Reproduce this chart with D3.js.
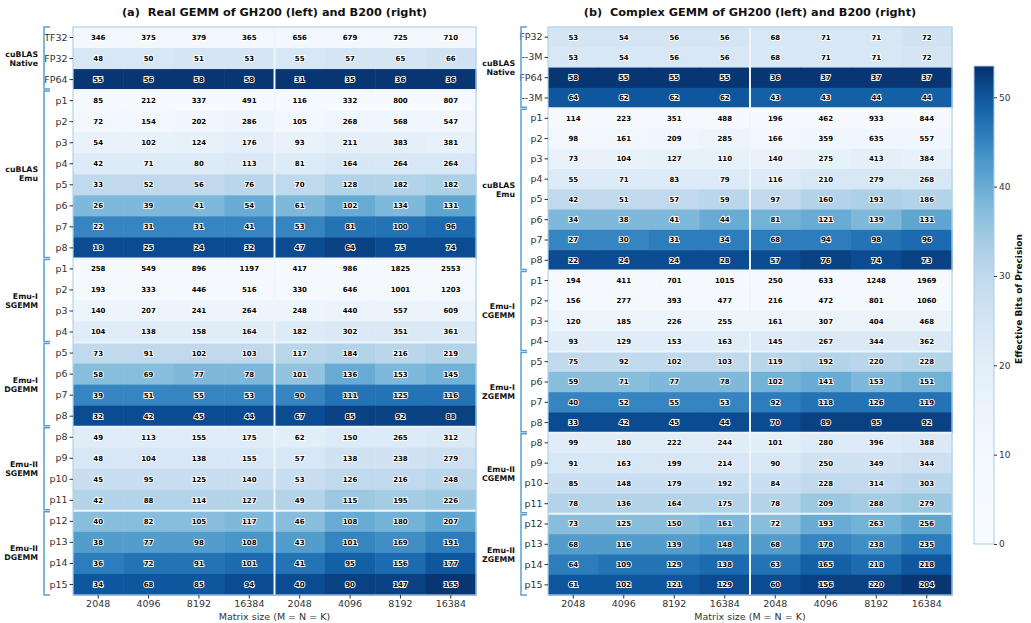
<!DOCTYPE html>
<html>
<head>
<meta charset="utf-8">
<script src="https://cdn.jsdelivr.net/npm/d3@7"></script>
<style>
  body { margin: 0; background: #fff; }
  text { font-family: "DejaVu Sans", sans-serif; }
</style>
</head>
<body>
<div id="chart"></div>
<script>
(function(d3) {

  var sizes = ["2048", "4096", "8192", "16384"];

  // ---- (a) real GEMM ----
  var realRows = ["TF32", "FP32", "FP64",
    "p1", "p2", "p3", "p4", "p5", "p6", "p7", "p8",
    "p1", "p2", "p3", "p4",
    "p5", "p6", "p7", "p8",
    "p8", "p9", "p10", "p11",
    "p12", "p13", "p14", "p15"];
  var realGroups = ["cuBLAS|Native", "cuBLAS|Emu", "Emu-I|SGEMM", "Emu-I|DGEMM", "Emu-II|SGEMM", "Emu-II|DGEMM"];
  var realGroupSizes = [3, 8, 4, 4, 4, 4];

  // throughput shown in each cell (GH200 x4 | B200 x4)
  var realValues = [
    [346, 375, 379, 365, 656, 679, 725, 710],
    [48, 50, 51, 53, 55, 57, 65, 66],
    [55, 56, 58, 58, 31, 35, 36, 36],
    [85, 212, 337, 491, 116, 332, 800, 807],
    [72, 154, 202, 286, 105, 268, 568, 547],
    [54, 102, 124, 176, 93, 211, 383, 381],
    [42, 71, 80, 113, 81, 164, 264, 264],
    [33, 52, 56, 76, 70, 128, 182, 182],
    [26, 39, 41, 54, 61, 102, 134, 131],
    [22, 31, 31, 41, 53, 81, 100, 96],
    [18, 25, 24, 32, 47, 64, 75, 74],
    [258, 549, 896, 1197, 417, 986, 1825, 2553],
    [193, 333, 446, 516, 330, 646, 1001, 1203],
    [140, 207, 241, 264, 248, 440, 557, 609],
    [104, 138, 158, 164, 182, 302, 351, 361],
    [73, 91, 102, 103, 117, 184, 216, 219],
    [58, 69, 77, 78, 101, 136, 153, 145],
    [39, 51, 55, 53, 90, 111, 125, 116],
    [32, 42, 45, 44, 67, 85, 92, 88],
    [49, 113, 155, 175, 62, 150, 265, 312],
    [48, 104, 138, 155, 57, 138, 238, 279],
    [45, 95, 125, 140, 53, 126, 216, 248],
    [42, 88, 114, 127, 49, 115, 195, 226],
    [40, 82, 105, 117, 46, 108, 180, 207],
    [38, 77, 98, 108, 43, 101, 169, 191],
    [36, 72, 91, 101, 41, 95, 156, 177],
    [34, 68, 85, 94, 40, 90, 147, 165]
  ];
  // effective bits (cell colour), estimated from the shading
  var realBits = [
    [11, 11, 11, 11, 11, 11, 11, 11],
    [24, 24, 25, 25, 24, 25, 25, 26],
    [53, 53, 53, 53, 53, 53, 53, 53],
    [6, 6, 6, 6, 6, 6, 6, 6],
    [12, 12, 13, 15, 12, 13, 13, 13],
    [17, 17, 18, 19, 17, 19, 19, 18],
    [22, 22, 22, 23, 22, 24, 24, 24],
    [30, 30, 30, 31, 30, 32, 32, 33],
    [38, 38, 38, 40, 38, 40, 38, 41],
    [45, 45, 45, 45, 45, 47, 47, 48],
    [51, 51, 51, 51, 51, 52, 51, 51],
    [5, 5, 5, 5, 5, 5, 5, 5],
    [9, 9, 9, 9, 9, 9, 9, 9],
    [15, 15, 15, 15, 15, 16, 16, 16],
    [21, 21, 21, 21, 22, 23, 23, 23],
    [30, 30, 30, 30, 31, 32, 31, 32],
    [37, 37, 38, 38, 36, 40, 38, 39],
    [45, 45, 45, 45, 45, 47, 47, 47],
    [51, 51, 51, 51, 51, 52, 52, 52],
    [21, 21, 21, 21, 20, 22, 22, 23],
    [24, 24, 24, 24, 24, 26, 26, 27],
    [28, 28, 28, 28, 28, 30, 30, 31],
    [32, 32, 32, 32, 32, 35, 34, 35],
    [37, 37, 37, 38, 37, 40, 39, 41],
    [42, 42, 42, 43, 42, 45, 44, 46],
    [46, 47, 47, 48, 47, 49, 48, 50],
    [50, 50, 50, 51, 51, 52, 52, 53]
  ];

  // ---- (b) complex GEMM ----
  var complexRows = ["FP32", "--3M", "FP64", "--3M",
    "p1", "p2", "p3", "p4", "p5", "p6", "p7", "p8",
    "p1", "p2", "p3", "p4",
    "p5", "p6", "p7", "p8",
    "p8", "p9", "p10", "p11",
    "p12", "p13", "p14", "p15"];
  var complexGroups = ["cuBLAS|Native", "cuBLAS|Emu", "Emu-I|CGEMM", "Emu-I|ZGEMM", "Emu-II|CGEMM", "Emu-II|ZGEMM"];
  var complexGroupSizes = [4, 8, 4, 4, 4, 4];

  var complexValues = [
    [53, 54, 56, 56, 68, 71, 71, 72],
    [53, 54, 56, 56, 68, 71, 71, 72],
    [58, 55, 55, 55, 36, 37, 37, 37],
    [64, 62, 62, 62, 43, 43, 44, 44],
    [114, 223, 351, 488, 196, 462, 933, 844],
    [98, 161, 209, 285, 166, 359, 635, 557],
    [73, 104, 127, 110, 140, 275, 413, 384],
    [55, 71, 83, 79, 116, 210, 279, 268],
    [42, 51, 57, 59, 97, 160, 193, 186],
    [34, 38, 41, 44, 81, 121, 139, 131],
    [27, 30, 31, 34, 68, 94, 98, 96],
    [22, 24, 24, 28, 57, 76, 74, 73],
    [194, 411, 701, 1015, 250, 633, 1248, 1969],
    [156, 277, 393, 477, 216, 472, 801, 1060],
    [120, 185, 226, 255, 161, 307, 404, 468],
    [93, 129, 153, 163, 145, 267, 344, 362],
    [75, 92, 102, 103, 119, 192, 220, 228],
    [59, 71, 77, 78, 102, 141, 153, 151],
    [40, 52, 55, 53, 92, 118, 126, 119],
    [33, 42, 45, 44, 70, 89, 95, 92],
    [99, 180, 222, 244, 101, 280, 396, 388],
    [91, 163, 199, 214, 90, 250, 349, 344],
    [85, 148, 179, 192, 84, 228, 314, 303],
    [78, 136, 164, 175, 78, 209, 288, 279],
    [73, 125, 150, 161, 72, 193, 263, 256],
    [68, 116, 139, 148, 68, 178, 238, 235],
    [64, 109, 129, 138, 63, 165, 218, 218],
    [61, 102, 121, 129, 60, 156, 220, 204]
  ];
  var complexBits = [
    [25, 25, 25, 25, 24, 24, 24, 26],
    [24, 24, 24, 24, 24, 24, 24, 25],
    [53, 53, 53, 53, 53, 53, 53, 53],
    [50, 50, 50, 50, 49, 49, 49, 49],
    [6, 6, 6, 6, 6, 6, 6, 6],
    [12, 12, 13, 15, 12, 13, 13, 13],
    [17, 17, 18, 18, 17, 18, 19, 18],
    [22, 22, 22, 22, 22, 24, 24, 24],
    [30, 30, 30, 31, 30, 32, 33, 32],
    [38, 38, 38, 40, 39, 40, 38, 41],
    [45, 45, 46, 46, 46, 46, 47, 48],
    [51, 51, 51, 51, 51, 52, 51, 52],
    [5, 5, 5, 5, 5, 5, 5, 5],
    [9, 9, 9, 9, 9, 9, 9, 9],
    [15, 15, 15, 15, 15, 16, 16, 16],
    [21, 21, 21, 21, 22, 23, 23, 23],
    [30, 30, 30, 30, 31, 32, 31, 32],
    [37, 37, 38, 38, 39, 40, 38, 39],
    [45, 45, 45, 45, 46, 47, 47, 47],
    [51, 51, 51, 51, 51, 52, 52, 52],
    [21, 21, 21, 21, 20, 22, 22, 23],
    [24, 24, 24, 24, 24, 26, 26, 27],
    [28, 28, 28, 28, 28, 30, 30, 31],
    [32, 32, 32, 32, 32, 35, 34, 35],
    [37, 37, 37, 38, 37, 40, 39, 41],
    [42, 42, 42, 43, 42, 45, 44, 46],
    [46, 47, 47, 48, 47, 49, 48, 50],
    [50, 50, 50, 51, 51, 52, 52, 53]
  ];

  var cbTicks = [0, 10, 20, 30, 40, 50];

  var W = 1031, H = 623;
  var vmax = 53.5;

  var color = d3.scaleSequentialPow(d3.interpolateBlues).exponent(2.3).domain([0, vmax]);

  var svg = d3.select("#chart").append("svg")
    .attr("width", W).attr("height", H);

  function drawPanel(p) {
    var nrows = p.rows.length;
    var x = d3.scaleBand().domain(d3.range(8)).range([p.x0, p.x1]);
    var y = d3.scaleBand().domain(d3.range(nrows)).range([p.y0, p.y1]);
    var g = svg.append("g");

    var cells = [];
    p.values.forEach(function(row, i) {
      row.forEach(function(v, j) { cells.push({i: i, j: j, v: v, b: p.bits[i][j]}); });
    });

    g.selectAll("rect.cell").data(cells).enter().append("rect")
      .attr("class", "cell")
      .attr("x", function(d) { return x(d.j); })
      .attr("y", function(d) { return y(d.i); })
      .attr("width", x.bandwidth() + 0.5)
      .attr("height", y.bandwidth() + 0.5)
      .attr("fill", function(d) { return color(d.b); });

    // group separators
    var bounds = [], acc = 0;
    p.groupSizes.forEach(function(n) { bounds.push([acc, acc + n]); acc += n; });
    bounds.slice(1).forEach(function(b) {
      g.append("line")
        .attr("x1", p.x0).attr("x2", p.x1)
        .attr("y1", y(b[0])).attr("y2", y(b[0]))
        .attr("stroke", "#eef5fc").attr("stroke-width", 2);
    });
    g.append("line")
      .attr("x1", x(4)).attr("x2", x(4))
      .attr("y1", p.y0).attr("y2", p.y1)
      .attr("stroke", "#eef5fc").attr("stroke-width", 2);

    g.append("rect")
      .attr("x", p.x0).attr("y", p.y0)
      .attr("width", p.x1 - p.x0).attr("height", p.y1 - p.y0)
      .attr("fill", "none").attr("stroke", "#b3d3ea").attr("stroke-width", 1.2);

    // cell labels
    g.selectAll("text.val").data(cells).enter().append("text")
      .attr("class", "val")
      .attr("x", function(d) { return x(d.j) + x.bandwidth() / 2; })
      .attr("y", function(d) { return y(d.i) + y.bandwidth() / 2; })
      .attr("dy", "0.35em")
      .attr("text-anchor", "middle")
      .attr("font-size", 7)
      .attr("font-weight", "bold")
      .attr("fill", "#000")
      .attr("stroke", "#fff")
      .attr("stroke-width", 1.8)
      .attr("paint-order", "stroke")
      .text(function(d) { return d.v; });

    // row axis
    var ya = g.append("g")
      .attr("transform", "translate(" + p.x0 + ",0)")
      .call(d3.axisLeft(y).tickSize(3.5).tickPadding(2).tickFormat(function(i) { return p.rows[i]; }));
    ya.select(".domain").remove();
    ya.selectAll("text").attr("font-size", 9.5).attr("fill", "#333").attr("font-family", "DejaVu Sans");
    ya.selectAll("line").attr("stroke", "#333");

    // column axis
    var xa = g.append("g")
      .attr("transform", "translate(0," + p.y1 + ")")
      .call(d3.axisBottom(x).tickSize(3.5).tickPadding(2).tickFormat(function(j) { return sizes[j % 4]; }));
    xa.select(".domain").remove();
    xa.selectAll("text").attr("font-size", 9.5).attr("fill", "#333").attr("font-family", "DejaVu Sans");
    xa.selectAll("line").attr("stroke", "#333");

    g.append("text")
      .attr("x", (p.x0 + p.x1) / 2).attr("y", 620)
      .attr("text-anchor", "middle")
      .attr("font-size", 9.5).attr("fill", "#333")
      .text("Matrix size (M = N = K)");

    g.append("text")
      .attr("x", (p.x0 + p.x1) / 2).attr("y", 16)
      .attr("text-anchor", "middle")
      .attr("font-size", 11.3).attr("font-weight", "bold").attr("fill", "#111")
      .attr("xml:space", "preserve")
      .text(p.title);

    // brackets + group names
    bounds.forEach(function(b, k) {
      var yt = y(b[0]) + 1, yb = y(b[1]) - 1;
      if (b[1] === nrows) yb = p.y1;
      if (b[0] === 0) yt = p.y0;
      g.append("path")
        .attr("d", "M" + (p.bx + 6) + "," + yt + "H" + p.bx + "V" + yb + "H" + (p.bx + 6))
        .attr("fill", "none").attr("stroke", "#5b9fd2").attr("stroke-width", 1.5);
      var parts = p.groups[k].split("|");
      var yc = (y(b[0]) + (b[1] === nrows ? p.y1 : y(b[1]))) / 2;
      var t = g.append("text")
        .attr("x", p.lx).attr("y", yc - 4.5)
        .attr("text-anchor", "end")
        .attr("font-size", 7.8).attr("font-weight", "bold").attr("fill", "#111");
      t.append("tspan").attr("x", p.lx).attr("dy", "0.35em").text(parts[0]);
      t.append("tspan").attr("x", p.lx).attr("dy", "9").text(parts[1]);
    });
  }

  drawPanel({
    x0: 73, x1: 476, y0: 27, y1: 595,
    rows: realRows, values: realValues, bits: realBits,
    groups: realGroups, groupSizes: realGroupSizes,
    title: "(a)  Real GEMM of GH200 (left) and B200 (right)",
    lx: 38, bx: 44
  });

  drawPanel({
    x0: 548, x1: 952, y0: 27, y1: 595,
    rows: complexRows, values: complexValues, bits: complexBits,
    groups: complexGroups, groupSizes: complexGroupSizes,
    title: "(b)  Complex GEMM of GH200 (left) and B200 (right)",
    lx: 515, bx: 521
  });

  // colorbar
  var cbX = 974, cbW = 20, cbTop = 66, cbBot = 544;
  var cy = d3.scaleLinear().domain([0, vmax]).range([cbBot, cbTop]);
  var grad = svg.append("defs").append("linearGradient")
    .attr("id", "cbgrad").attr("x1", 0).attr("y1", 1).attr("x2", 0).attr("y2", 0);
  d3.range(0, 1.0001, 0.02).forEach(function(t) {
    grad.append("stop").attr("offset", t).attr("stop-color", color(t * vmax));
  });
  svg.append("rect")
    .attr("x", cbX).attr("y", cbTop).attr("width", cbW).attr("height", cbBot - cbTop)
    .attr("fill", "url(#cbgrad)").attr("stroke", "#a9cde6").attr("stroke-width", 1);
  var ca = svg.append("g")
    .attr("transform", "translate(" + (cbX + cbW) + ",0)")
    .call(d3.axisRight(cy).tickValues(cbTicks).tickSize(3).tickPadding(2));
  ca.select(".domain").remove();
  ca.selectAll("text").attr("font-size", 9).attr("fill", "#333").attr("font-family", "DejaVu Sans");
  ca.selectAll("line").attr("stroke", "#333");
  svg.append("text")
    .attr("transform", "translate(1022,299) rotate(-90)")
    .attr("text-anchor", "middle")
    .attr("font-size", 9).attr("font-weight", "bold").attr("fill", "#111")
    .text("Effective Bits of Precision");

})(window.d3);
</script>
</body>
</html>
